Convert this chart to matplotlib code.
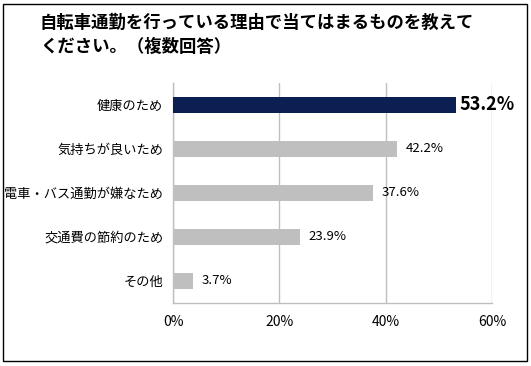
import matplotlib
matplotlib.use("Agg")
import matplotlib.pyplot as plt
from matplotlib.patches import Rectangle

plt.rcParams['font.family'] = ['Noto Sans CJK JP', 'DejaVu Sans']

title_lines = ["自転車通勤を行っている理由で当てはまるものを教えて", "ください。（複数回答）"]
categories = ["健康のため", "気持ちが良いため", "電車・バス通勤が嫌なため", "交通費の節約のため", "その他"]
values = [53.2, 42.2, 37.6, 23.9, 3.7]
xticks = [0, 20, 40, 60]
xtick_labels = ["0%", "20%", "40%", "60%"]

W, H = 531, 366
fig = plt.figure(figsize=(W / 100, H / 100), dpi=100)
ax = fig.add_axes([173 / W, 1 - 303 / H, (492 - 173) / W, (303 - 83) / H])

ypos = list(range(len(categories)))
colors = ['#0b1f52'] + ['#bfbfbf'] * (len(categories) - 1)
ax.barh(ypos, values, height=0.38, color=colors, zorder=3)
ax.set_ylim(len(categories) - 0.5, -0.5)
ax.set_xlim(0, 60)
ax.set_yticks(ypos)
ax.set_yticklabels(categories, fontsize=9.5)
ax.set_xticks(xticks)
ax.set_xticklabels(xtick_labels, fontsize=10)
ax.tick_params(axis='y', length=0, pad=7)
ax.tick_params(axis='x', length=0, pad=9)
ax.grid(axis='x', color='#bfbfbf', linewidth=1, zorder=0)
for s in ['top', 'right']:
    ax.spines[s].set_visible(False)
for s in ['left', 'bottom']:
    ax.spines[s].set_color('#bfbfbf')
    ax.spines[s].set_linewidth(1)

for i, v in enumerate(values):
    if i == 0:
        ax.text(v + 0.6, i, f"{v:.1f}%", va='center', ha='left', fontsize=13,
                fontweight='bold', color='black')
    else:
        ax.text(v + 1.6, i, f"{v:.1f}%", va='center', ha='left', fontsize=9.5,
                color='black')

fig.text(40 / W, 1 - 23 / H, title_lines[0], fontsize=12.5, fontweight='bold', va='center', ha='left')
fig.text(40 / W, 1 - 47 / H, title_lines[1], fontsize=12.5, fontweight='bold', va='center', ha='left')

fig.patches.append(Rectangle((3 / W, 1 - 361 / H), (527 - 3) / W, (361 - 4) / H,
                             transform=fig.transFigure, fill=False, edgecolor='black',
                             linewidth=1))

fig.savefig("out.png", dpi=100)
